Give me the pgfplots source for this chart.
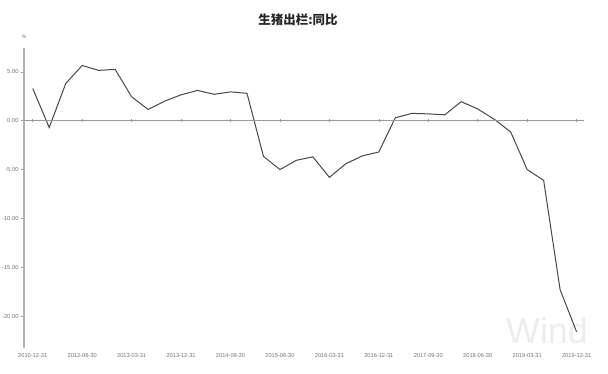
\documentclass[border=0pt]{standalone}
\usepackage{pgfplots}
\pgfplotsset{compat=1.18}
\usepackage{fontspec}
\setmainfont{Liberation Sans}
\newfontfamily\cjk{Noto Sans CJK SC}

\begin{document}
\begin{tikzpicture}[x=1bp,y=1bp]
\useasboundingbox (-24,-25) rectangle (584,348);
\node[text=black!7, font=\fontsize{36}{36}\selectfont, inner sep=0pt, anchor=south] at (523,4) {Wind};
\begin{axis}[at={(0,0)}, anchor=south west, scale only axis,
  width=560bp, height=300bp,
  xmin=-0.53, xmax=33.45, ymin=-23.26, ymax=7.44,
  axis x line*=bottom, axis y line*=left,
  x axis line style={draw=none},
  y axis line style={draw=black!30, line width=1.4bp, -},
  xtick={0,3,...,33},
  xticklabels={2010-12-31,2012-06-30,2013-03-31,2013-12-31,2014-09-30,2015-06-30,2016-03-31,2016-12-31,2017-09-30,2018-06-30,2019-03-31,2019-12-31},
  x tick style={draw=none},
  x tick label style={font=\fontsize{5.7}{6}\selectfont, text=black!55, yshift=1bp},
  ytick={-20,-15,...,5},
  y tick style={draw=black!40, line width=0.5bp},
  tick align=outside, major tick length=3bp,
  y tick label style={font=\fontsize{5.8}{6}\selectfont, text=black!55, xshift=1bp},
  yticklabel style={/pgf/number format/.cd, fixed, fixed zerofill, precision=2, assume math mode=true},
  clip=false,
]
\addplot[black!72, line width=1bp] coordinates {
(0,3.3) (1,-0.7) (2,3.8) (3,5.65) (4,5.15) (5,5.25) (6,2.45) (7,1.15)
(8,2.0) (9,2.65) (10,3.1) (11,2.7) (12,2.95) (13,2.8) (14,-3.65) (15,-5.0)
(16,-4.05) (17,-3.7) (18,-5.8) (19,-4.4) (20,-3.6) (21,-3.2) (22,0.3) (23,0.75)
(24,0.7) (25,0.6) (26,1.95) (27,1.2) (28,0.15) (29,-1.15) (30,-5.0) (31,-6.1)
(32,-17.3) (33,-21.6)
};
\end{axis}
\begin{axis}[at={(0,0)}, anchor=south west, scale only axis,
  width=560bp, height=300bp,
  xmin=-0.53, xmax=33.45, ymin=-23.26, ymax=7.44,
  axis x line=middle, axis y line=none,
  x axis line style={draw=black!40, line width=0.6bp, -},
  xtick={0,3,...,33}, xticklabels={},
  x tick style={draw=black!40, line width=0.5bp},
  tick align=center, major tick length=3bp,
]
\end{axis}
\node[font=\cjk\bfseries\fontsize{12.5}{13}\selectfont, text=black!85] at (274,328) {生猪出栏:同比};
\node[font=\fontsize{5}{6}\selectfont, text=black!55] at (0,311) {\%};
\end{tikzpicture}
\end{document}
